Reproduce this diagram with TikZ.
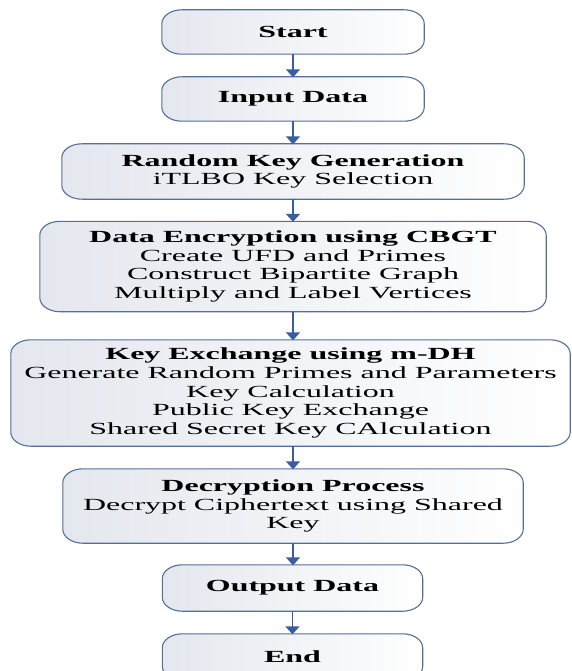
\documentclass[tikz,border=0pt]{standalone}
\usepackage{fontspec}
\setmainfont{Liberation Serif}[FakeStretch=1.88]
\usetikzlibrary{arrows.meta,backgrounds}
\definecolor{boxborder}{RGB}{84,112,150}
\definecolor{boxfill}{RGB}{228,231,238}
\definecolor{arrowblue}{RGB}{58,92,160}
\tikzset{
  box/.style={inner sep=0pt, align=center, font=\fontsize{17}{18.8}\selectfont},
  boxline/.style={draw=boxborder, line width=1.1pt, left color=boxfill, right color=white},
  arr/.style={draw=arrowblue, line width=1.8pt, -{Triangle[width=14pt,length=8pt]}, shorten >=-0.5pt}
}
\newcommand\rrbox[1]{%
  \path[boxline] ([xshift=20pt]#1.north west) -- ([xshift=-20pt]#1.north east)
    arc[start angle=90,end angle=0,x radius=20pt,y radius=14pt]
    -- ([yshift=14pt]#1.south east)
    arc[start angle=0,end angle=-90,x radius=20pt,y radius=14pt]
    -- ([xshift=20pt]#1.south west)
    arc[start angle=270,end angle=180,x radius=20pt,y radius=14pt]
    -- ([yshift=-14pt]#1.north west)
    arc[start angle=180,end angle=90,x radius=20pt,y radius=14pt] -- cycle;}
\begin{document}
\begin{tikzpicture}[x=1pt,y=-1pt]
\useasboundingbox (0,0) rectangle (571,671);
\clip (0,0) rectangle (571,671);
\node[box, minimum width=262pt, minimum height=44pt] (start) at (293,32) {\textbf{Start}};
\node[box, minimum width=262pt, minimum height=44pt] (input) at (293,99) {\textbf{Input Data}};
\node[box, minimum width=462pt, minimum height=55pt] (rkg) at (293,171.5) {\textbf{Random Key Generation}\\iTLBO Key Selection};
\node[box, minimum width=506pt, minimum height=90pt] (enc) at (293,266.5) {\textbf{Data Encryption using CBGT}\\Create UFD and Primes\\Construct Bipartite Graph\\Multiply and Label Vertices};
\node[box, minimum width=559pt, minimum height=106pt] (kex) at (290.5,393) {\textbf{Key Exchange using m-DH}\\Generate Random Primes and Parameters\\Key Calculation\\Public Key Exchange\\Shared Secret Key CAlculation};
\node[box, minimum width=460pt, minimum height=74pt] (dec) at (293,506) {\textbf{Decryption Process}\\Decrypt Ciphertext using Shared\\Key};
\node[box, minimum width=260pt, minimum height=46pt] (out) at (292.5,588) {\textbf{Output Data}};
\node[box, minimum width=260pt, minimum height=46pt] (end) at (292.5,657) {\textbf{End}};
\begin{scope}[on background layer]
\rrbox{start}\rrbox{input}\rrbox{rkg}\rrbox{enc}\rrbox{kex}\rrbox{dec}\rrbox{out}\rrbox{end}
\end{scope}
\draw[arr] (start.south) -- (input.north);
\draw[arr] (input.south) -- (rkg.north);
\draw[arr] (rkg.south) -- (enc.north);
\draw[arr] (enc.south) -- (enc.south |- kex.north);
\draw[arr] (enc.south |- kex.south) -- (dec.north);
\draw[arr] (dec.south) -- (dec.south |- out.north);
\draw[arr] (out.south) -- (end.north);
\end{tikzpicture}
\end{document}
